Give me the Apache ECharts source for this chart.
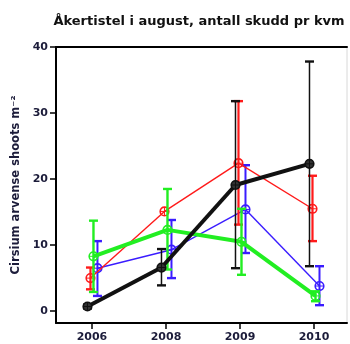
<!DOCTYPE html>
<html><head><meta charset="utf-8">
<script src="https://cdn.jsdelivr.net/npm/echarts@6/dist/echarts.min.js"></script>
<style>html,body{margin:0;padding:0;background:#fff}#c{width:350px;height:344px}</style>
</head><body><div id="c"></div>
<script>
const years = ['2006', '2008', '2009', '2010'];
const yTicks = [0, 10, 20, 30, 40];
// mean, lower, upper per year
const blackMean = [0.7, 6.6, 19.1, 22.3];
const blackLow  = [0.4, 3.9, 6.5, 6.8];
const blackHigh = [1.0, 9.4, 31.8, 37.8];
const redMean = [5.0, 15.1, 22.4, 15.5];
const redLow  = [3.3, null, 13.1, 10.6];
const redHigh = [6.6, null, 31.8, 20.5];
const blueMean = [6.5, 9.3, 15.4, 3.8];
const blueLow  = [2.3, 5.0, 8.8, 0.9];
const blueHigh = [10.6, 13.8, 22.1, 6.8];
const greenMean = [8.3, 12.3, 10.5, 2.3];
const greenLow  = [2.9, 6.3, 5.5, 1.5];
const greenHigh = [13.7, 18.5, 15.5, 3.0];

const groups = [
  {name:'blue',  mean:blueMean,  low:blueLow,  high:blueHigh,  color:'#3a1cff', lw:1.4, ew:2,   dx:5.5,  fill:'rgba(255,255,255,0)'},
  {name:'red',   mean:redMean,   low:redLow,   high:redHigh,   color:'#ff1a1a', lw:1.4, ew:2.2, dx:-1.5, fill:'rgba(255,255,255,0)'},
  {name:'green', mean:greenMean, low:greenLow, high:greenHigh, color:'#22ee22', lw:4,   ew:2.4, dx:1.5,  fill:'rgba(255,255,255,0)'},
  {name:'black', mean:blackMean, low:blackLow, high:blackHigh, color:'#111111', lw:4,   ew:1.5, dx:-4.5, fill:'#333'}
];

function makeSeries(g, z) {
  const data = g.mean.map((m, i) => [i, m, g.low[i], g.high[i]]);
  return {
    type: 'custom', name: g.name, z: z, xAxisIndex: 0, yAxisIndex: 0,
    data: data,
    renderItem: function (params, api) {
      const i = params.dataIndex;
      const ch = [];
      const p = api.coord([data[i][0], data[i][1]]); p[0] += g.dx;
      if (i + 1 < data.length) {
        const q = api.coord([data[i+1][0], data[i+1][1]]); q[0] += g.dx;
        ch.push({type:'line', shape:{x1:p[0],y1:p[1],x2:q[0],y2:q[1]}, style:{stroke:g.color, lineWidth:g.lw}, z2:1});
      }
      if (data[i][2] != null) {
        const lo = api.coord([data[i][0], data[i][2]]);
        const hi = api.coord([data[i][0], data[i][3]]);
        const x = p[0], hw = 4.5;
        ch.push({type:'line', shape:{x1:x,y1:lo[1],x2:x,y2:hi[1]}, style:{stroke:g.color, lineWidth:g.ew}, z2:2});
        ch.push({type:'line', shape:{x1:x-hw,y1:lo[1],x2:x+hw,y2:lo[1]}, style:{stroke:g.color, lineWidth:2.4}, z2:2});
        ch.push({type:'line', shape:{x1:x-hw,y1:hi[1],x2:x+hw,y2:hi[1]}, style:{stroke:g.color, lineWidth:2.4}, z2:2});
      }
      const r = 4.3;
      ch.push({type:'circle', shape:{cx:p[0], cy:p[1], r:r}, style:{fill:g.fill, stroke:g.color, lineWidth:1.6}, z2:3});
      ch.push({type:'line', shape:{x1:p[0]-r,y1:p[1],x2:p[0]+r,y2:p[1]}, style:{stroke:g.color, lineWidth:1}, z2:3});
      ch.push({type:'line', shape:{x1:p[0],y1:p[1]-r,x2:p[0],y2:p[1]+r}, style:{stroke:g.color, lineWidth:1}, z2:3});
      return {type:'group', children: ch};
    }
  };
}

const chart = echarts.init(document.getElementById('c'), null, {renderer:'canvas'});
chart.setOption({
  animation: false,
  title: {
    text: 'Åkertistel i august, antall skudd pr kvm',
    left: 194, top: 10, textAlign: 'center',
    textStyle: {fontFamily:'DejaVu Sans', fontWeight:'bold', fontSize:13, color:'#111'}
  },
  grid: {left:56, right:3, top:47, bottom:21, show:true, borderColor:'#d8d8d8', borderWidth:1, backgroundColor:'#fff'},
  xAxis: [{
    type:'value', min:-0.486, max:3.446, position:'bottom',
    axisLine:{show:true, onZero:false, lineStyle:{color:'#000', width:2}},
    axisTick:{show:true, customValues:[0,1,2,3], length:6, lineStyle:{color:'#000', width:1.5}},
    axisLabel:{customValues:[0,1,2,3], formatter: v => years[Math.round(v)] || '', margin:9,
      fontFamily:'DejaVu Sans', fontWeight:'bold', fontSize:11, color:'#1c1c3a'},
    splitLine:{show:false}
  }, {
    type:'value', min:-0.486, max:3.446, position:'top',
    axisLine:{show:true, onZero:false, lineStyle:{color:'#000', width:2}},
    axisTick:{show:false}, axisLabel:{show:false}, splitLine:{show:false}
  }],
  yAxis: {
    type:'value', min:-1.8, max:40, position:'left',
    name:'Cirsium arvense shoots m⁻²', nameLocation:'middle', nameGap:34, nameRotate:90,
    nameTextStyle:{fontFamily:'DejaVu Sans', fontWeight:'bold', fontSize:11.5, color:'#1c1c3a'},
    axisLine:{show:true, onZero:false, lineStyle:{color:'#000', width:2}},
    axisTick:{show:true, customValues:yTicks, length:6, lineStyle:{color:'#000', width:1.5}},
    axisLabel:{customValues:yTicks, margin:8, fontFamily:'DejaVu Sans', fontWeight:'bold', fontSize:11, color:'#1c1c3a'},
    splitLine:{show:false}
  },
  series: groups.map((g, k) => makeSeries(g, 2 + k))
});
</script></body></html>
